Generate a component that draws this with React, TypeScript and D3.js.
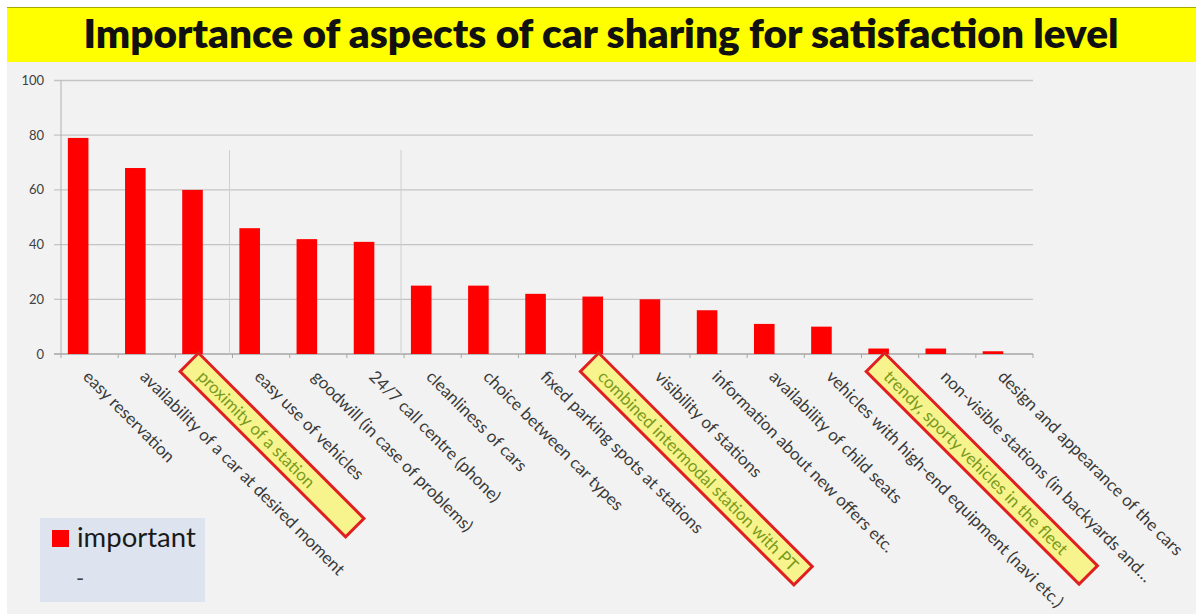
import React, { useEffect, useRef } from "react";
import * as d3 from "d3";

const titleText = "Importance of aspects of car sharing for satisfaction level";
const categories = [
  "easy reservation",
  "availability of a car at desired moment",
  "proximity of a station",
  "easy use of vehicles",
  "goodwill (in case of problems)",
  "24/7 call centre (phone)",
  "cleanliness of cars",
  "choice between car types",
  "fixed parking spots at stations",
  "combined intermodal station with PT",
  "visibility of stations",
  "information about new offers etc.",
  "availability of child seats",
  "vehicles with high-end equipment (navi etc.)",
  "trendy, sporty vehicles in the fleet",
  "non-visible stations (in backyards and…",
  "design and appearance of the cars",
];
const importantValues = [79, 68, 60, 46, 42, 41, 25, 25, 22, 21, 20, 16, 11, 10, 2, 2, 1];
const yTicks = [0, 20, 40, 60, 80, 100];
const highlighted = [
  "proximity of a station",
  "combined intermodal station with PT",
  "trendy, sporty vehicles in the fleet",
];
const highlightLengths = [234, 302, 301];
const separators = ["easy use of vehicles", "cleanliness of cars"];
const legendItems = ["important", "-"];

const W = 1196;
const H = 614;
const FONT = "Lato, 'Open Sans', sans-serif";

export default function App() {
  const ref = useRef<SVGSVGElement>(null);

  useEffect(() => {
    const svg = d3.select(ref.current);
    svg.selectAll("*").remove();

    svg.append("rect").attr("x", 0).attr("y", 0).attr("width", W).attr("height", H).attr("fill", "#ffffff");
    svg.append("rect").attr("x", 7).attr("y", 62).attr("width", W - 7).attr("height", H - 62).attr("fill", "#f2f2f2");
    svg.append("rect").attr("x", 7).attr("y", 7).attr("width", W - 7).attr("height", 55).attr("fill", "#ffff00");
    svg.append("line").attr("x1", 7).attr("x2", W).attr("y1", 7.5).attr("y2", 7.5).attr("stroke", "#a8a800").attr("stroke-width", 1);

    svg.append("text")
      .attr("x", 601).attr("y", 48)
      .attr("text-anchor", "middle")
      .attr("font-family", FONT).attr("font-weight", 800).attr("font-size", 40.5)
      .attr("fill", "#111")
      .text(titleText);

    const x = d3.scaleBand<string>().domain(categories).range([61, 1033]).padding(0);
    const y = d3.scaleLinear().domain([0, 100]).range([354, 80.5]);
    const bw = x.bandwidth();

    const g = svg.append("g");
    yTicks.forEach((t) => {
      g.append("line")
        .attr("x1", 54).attr("x2", 1033)
        .attr("y1", y(t)).attr("y2", y(t))
        .attr("stroke", t === 0 ? "#a6a6a6" : "#c4c4c4").attr("stroke-width", 1.3);
      g.append("text")
        .attr("x", 44).attr("y", y(t))
        .attr("dy", "0.35em")
        .attr("text-anchor", "end")
        .attr("font-family", FONT).attr("font-size", 13)
        .attr("fill", "#404040")
        .text(String(t));
    });
    g.append("line").attr("x1", 61).attr("x2", 61).attr("y1", y(100)).attr("y2", y(0)).attr("stroke", "#b0b0b0").attr("stroke-width", 1);
    categories.concat(["__end"]).forEach((c, i) => {
      const xx = i < categories.length ? (x(c) as number) : 1033;
      g.append("line").attr("x1", xx).attr("x2", xx).attr("y1", y(0)).attr("y2", y(0) + 4).attr("stroke", "#a6a6a6").attr("stroke-width", 1);
    });

    separators.forEach((c) => {
      const xx = (x(c) as number) - 3;
      g.append("line").attr("x1", xx).attr("x2", xx).attr("y1", 150).attr("y2", y(0))
        .attr("stroke", "#cfcfcf").attr("stroke-width", 1);
    });

    svg.append("g").selectAll("rect").data(categories).join("rect")
      .attr("x", (c) => (x(c) as number) + bw * 0.12)
      .attr("width", bw * 0.36)
      .attr("y", (c, i) => y(importantValues[i]))
      .attr("height", (c, i) => y(0) - y(importantValues[i]))
      .attr("fill", "#ff0000");

    categories.forEach((c) => {
      const cx = (x(c) as number) + bw * 0.3 + 6;
      const lg = svg.append("g").attr("transform", `translate(${cx},${y(0) - 1}) rotate(45)`);
      const hi = highlighted.indexOf(c);
      if (hi >= 0) {
        lg.append("rect").attr("x", 0).attr("y", 0).attr("width", highlightLengths[hi]).attr("height", 26)
          .attr("fill", "#f7f48e").attr("stroke", "#e02020").attr("stroke-width", 3);
      }
      lg.append("text")
        .attr("x", 16).attr("y", 13)
        .attr("dy", "0.35em")
        .attr("font-family", FONT).attr("font-size", 17)
        .attr("fill", hi >= 0 ? "#7a9a1a" : "#3a3a3a")
        .text(c);
    });

    const leg = svg.append("g");
    leg.append("rect").attr("x", 40).attr("y", 518).attr("width", 165).attr("height", 84).attr("fill", "#dde4ef");
    leg.append("rect").attr("x", 52).attr("y", 530).attr("width", 17).attr("height", 17).attr("fill", "#ff0000");
    leg.append("text").attr("x", 77).attr("y", 547)
      .attr("font-family", FONT).attr("font-size", 27.5).attr("fill", "#1a1a1a").text(legendItems[0]);
    leg.append("text").attr("x", 76).attr("y", 586)
      .attr("font-family", FONT).attr("font-size", 22).attr("fill", "#404040").text(legendItems[1]);
  }, []);

  return (
    <svg ref={ref} width={W} height={H} style={{ position: "absolute", left: 0, top: 0 }} />
  );
}
